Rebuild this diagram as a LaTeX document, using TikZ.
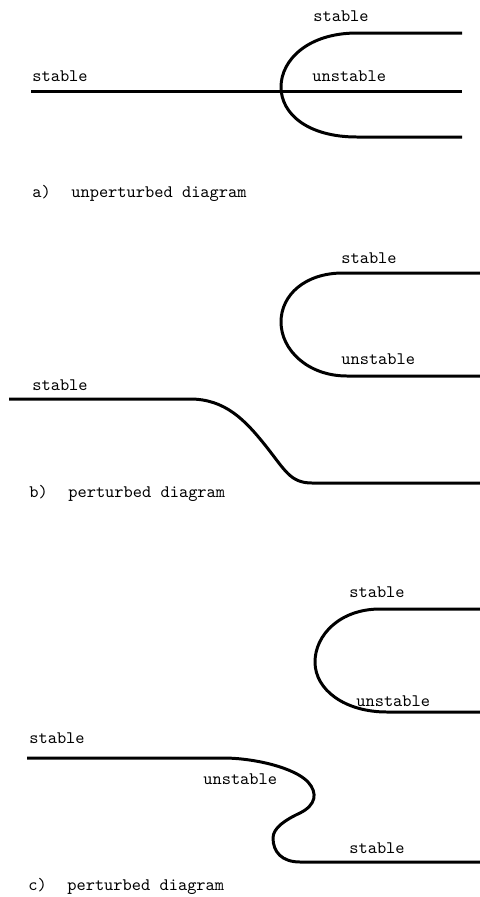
\documentclass[tikz,border=0pt]{standalone}
\begin{document}
\begin{tikzpicture}[x=0.02cm, y=-0.02cm,
  branch/.style={line width=1.7pt, line join=round},
  lbl/.style={anchor=base west, inner sep=0pt, font=\fontsize{10}{12}\ttfamily}]
\useasboundingbox (0,0) rectangle (480,897);

% ---- a) unperturbed diagram: pitchfork
\draw[branch] (31,91) -- (462,91);
\draw[branch] (462,33) -- (357,33) .. controls (308,33) and (281,60) .. (281,87)
  .. controls (281,114) and (308,137) .. (357,137) -- (462,137);
\node[lbl] (aStabTop) at (313,21) {stable};
\node[lbl] (aUnst)    at (312,81) {unstable};
\node[lbl] (aStabL)   at (32,81)  {stable};
\node[lbl] (aTag)     at (32,197) {a)};
\node[lbl] (aCap)     at (71,197) {unperturbed diagram};

% ---- b) perturbed diagram: isolated loop and smooth branch
\draw[branch] (480,273) -- (343,273) .. controls (305,273) and (281,295) .. (281,322)
  .. controls (281,350) and (308,376) .. (347,376) -- (480,376);
\draw[branch] (9,399) -- (190,399) .. controls (225,399) and (245,420) .. (265,445)
  .. controls (285,470) and (290,483) .. (312,483) -- (480,483);
\node[lbl] (bStabTop) at (341,263) {stable};
\node[lbl] (bUnst)    at (341,364) {unstable};
\node[lbl] (bStabL)   at (32,390)  {stable};
\node[lbl] (bTag)     at (29,497)  {b)};
\node[lbl] (bCap)     at (68,497)  {perturbed diagram};

% ---- c) perturbed diagram: isolated loop and S-shaped branch
\draw[branch] (480,609) -- (380,609) .. controls (340,609) and (315,635) .. (315,662)
  .. controls (315,690) and (345,712) .. (387,712) -- (480,712);
\draw[branch] (27,758) -- (223,758) .. controls (255,758) and (295,768) .. (308,782)
  .. controls (318,793) and (316,805) .. (300,813)
  .. controls (285,820) and (273,828) .. (273,838)
  .. controls (273,852) and (282,862) .. (300,862) -- (480,862);
\node[lbl] (cStabTop) at (349,597) {stable};
\node[lbl] (cUnstTop) at (356,706) {unstable};
\node[lbl] (cStabL)   at (29,743)  {stable};
\node[lbl] (cUnstMid) at (203,784) {unstable};
\node[lbl] (cStabBot) at (349,853) {stable};
\node[lbl] (cTag)     at (28,890)  {c)};
\node[lbl] (cCap)     at (67,890)  {perturbed diagram};
\end{tikzpicture}
\end{document}
